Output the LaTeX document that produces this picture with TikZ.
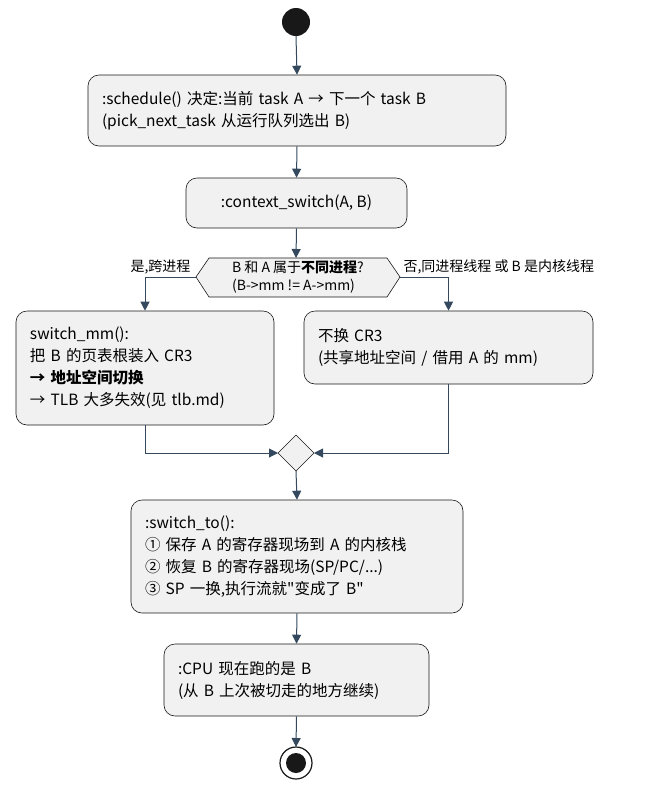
\documentclass[tikz,border=0pt]{standalone}
\usepackage{fontspec}
\setmainfont{Noto Sans CJK SC}
\usetikzlibrary{positioning,arrows.meta}
\definecolor{boxfill}{HTML}{F1F1F1}
\definecolor{boxline}{HTML}{181818}
\definecolor{flow}{HTML}{34495E}
\tikzset{
  act/.style={draw=boxline, fill=boxfill, rounded corners=11pt, line width=0.6pt,
    align=left, inner xsep=14pt, inner ysep=8pt, font=\fontsize{15.5}{22}\selectfont},
  flowline/.style={draw=flow, line width=1pt, -{Triangle[length=9pt,width=9pt]}},
  guard/.style={font=\fontsize{14}{16}\selectfont}
}
\begin{document}
\begin{tikzpicture}[x=1pt,y=-1pt]
  \useasboundingbox (0,0) rectangle (646,793);
  \fill[boxline] (296,22) circle (14);
  \node[act, minimum width=418pt, minimum height=71pt, text width=390pt] (sched) at (297,110.5)
    {:schedule() 决定:当前 task A → 下一个 task B\\(pick\_next\_task 从运行队列选出 B)};
  \node[act, minimum width=221pt, minimum height=50pt] (ctx) at (296.5,203) {:context\_switch(A, B)};
  \draw[boxline, fill=boxfill, line width=0.6pt] (196,277) -- (209,258) -- (387,258) -- (400,277)
    -- (387,297) -- (209,297) -- cycle;
  \node[align=left, font=\fontsize{14}{18}\selectfont] (ask) at (298,277)
    {B 和 A 属于\textbf{不同进程}?\\(B->mm != A->mm)};
  \coordinate (askW) at (196,277);
  \coordinate (askE) at (400,277);
  \node[guard, anchor=east] (yes) at (194,267) {是,跨进程};
  \node[guard, anchor=west] (no) at (400,267) {否,同进程线程 或 B 是内核线程};
  \node[act, minimum width=258pt, minimum height=114pt, text width=230pt] (mm) at (145,368)
    {switch\_mm():\\把 B 的页表根装入 CR3\\\textbf{→ 地址空间切换}\\→ TLB 大多失效(见 tlb.md)};
  \node[act, minimum width=289pt, minimum height=73pt, text width=261pt] (keep) at (448.5,347.5)
    {不换 CR3\\(共享地址空间 / 借用 A 的 mm)};
  \draw[boxline, fill=boxfill, line width=0.6pt] (296,435) -- (314,453) -- (296,471) -- (278,453) -- cycle;
  \coordinate (join) at (296,453);
  \node[act, minimum width=332pt, minimum height=113pt, text width=304pt] (swto) at (297,556.5)
    {:switch\_to():\\① 保存 A 的寄存器现场到 A 的内核栈\\② 恢复 B 的寄存器现场(SP/PC/...)\\③ SP 一换,执行流就\textquotedbl 变成了 B\textquotedbl};
  \node[act, minimum width=265pt, minimum height=72pt, text width=237pt] (run) at (296.5,680)
    {:CPU 现在跑的是 B\\(从 B 上次被切走的地方继续)};
  \draw[boxline, line width=1.2pt, fill=white] (296,763) circle (16);
  \fill[boxline] (296,763) circle (10);
  \coordinate (stop) at (296,747);
  \coordinate (start) at (296,36);
  % flow
  \draw[flowline] (start) -- (sched.north);
  \draw[flowline] (sched.south) -- (ctx.north);
  \draw[flowline] (ctx.south) -- (296,258);
  \draw[flowline] (askW) -| (mm.north);
  \draw[flowline] (askE) -| (keep.north);
  \draw[flowline] (mm.south) |- (278,453);
  \draw[flowline] (keep.south) |- (314,453);
  \draw[flowline] (296,471) -- (swto.north);
  \draw[flowline] (swto.south) -- (run.north);
  \draw[flowline] (run.south) -- (stop);
\end{tikzpicture}
\end{document}
